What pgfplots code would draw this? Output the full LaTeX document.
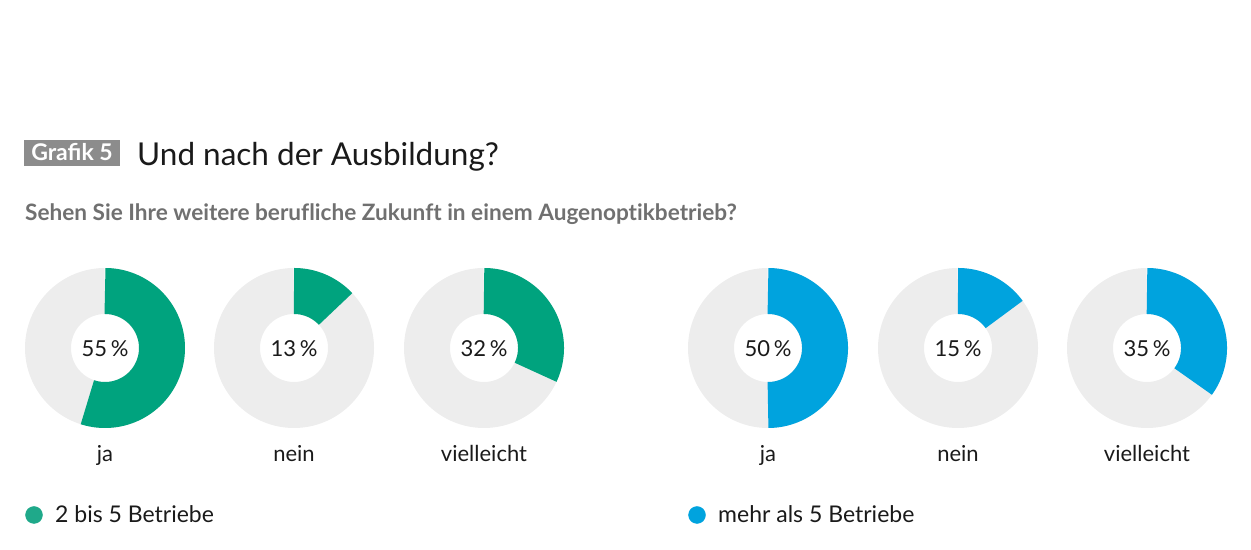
\documentclass[border=0pt]{standalone}
\usepackage{pgfplots}
\pgfplotsset{compat=1.18}
\usepackage{fontspec}
\setmainfont{Lato}
\newfontfamily\nolig{Lato}[Ligatures=NoCommon]
\definecolor{cgreen}{HTML}{00A37E}
\definecolor{cgreenL}{HTML}{1FA98A}
\definecolor{cblue}{HTML}{00A3DE}
\definecolor{ring}{HTML}{EDEDED}
\definecolor{boxgray}{HTML}{8C8C8C}
\definecolor{subgray}{HTML}{707070}
\definecolor{txt}{HTML}{1A1A1A}
% donut: centre x, percentage, colour, label
\newcommand{\donut}[4]{%
  \addplot[draw=ring, line width=46bp, domain=0:360, samples=145, variable=\t]
    ({#1+57*sin(\t)}, {348-57*cos(\t)});
  \addplot[draw=#3, line width=46bp, line cap=butt, domain=0:3.6*#2, samples=90, variable=\t]
    ({#1+57*sin(\t)}, {348-57*cos(\t)});
  \node[font=\fontsize{22bp}{26bp}\selectfont, text=txt] at (axis cs:#1,349) {#2\,\%};
  \node[font=\fontsize{22bp}{26bp}\selectfont, text=txt, anchor=base] at (axis cs:#1,462) {#4};
}
\begin{document}
\begin{tikzpicture}
\begin{axis}[
  scale only axis, width=1251bp, height=550bp,
  xmin=0, xmax=1251, ymin=0, ymax=550, y dir=reverse,
  hide axis, clip=false,
]
\path[draw=none] (axis cs:0,0) rectangle (axis cs:1251,550);
\fill[boxgray] (axis cs:24,140) rectangle (axis cs:120,166);
\node[font=\fontsize{23bp}{26bp}\selectfont\bfseries, text=white, inner sep=0pt, anchor=base] at (axis cs:72,161) {Grafik 5};
\node[font=\fontsize{31.5bp}{36bp}\selectfont, text=txt, anchor=base west, inner sep=0pt] at (axis cs:137,166) {Und nach der Ausbildung?};
\node[font=\fontsize{22.6bp}{26bp}\selectfont\nolig\bfseries, text=subgray, anchor=base west, inner sep=0pt] at (axis cs:25,221) {Sehen Sie Ihre weitere berufliche Zukunft in einem Augenoptikbetrieb?};
\donut{105}{55}{cgreen}{ja}
\donut{294}{13}{cgreen}{nein}
\donut{484}{32}{cgreen}{vielleicht}
\donut{768}{50}{cblue}{ja}
\donut{958}{15}{cblue}{nein}
\donut{1147}{35}{cblue}{vielleicht}
\addplot[only marks, mark=*, mark size=8.5bp, draw=cgreenL, fill=cgreenL] coordinates {(34,515)};
\addplot[only marks, mark=*, mark size=8.5bp, draw=cblue, fill=cblue] coordinates {(697,515)};
\node[font=\fontsize{23bp}{26bp}\selectfont, text=txt, anchor=base west, inner sep=0pt] at (axis cs:55,523) {2 bis 5 Betriebe};
\node[font=\fontsize{23bp}{26bp}\selectfont, text=txt, anchor=base west, inner sep=0pt] at (axis cs:718,523) {mehr als 5 Betriebe};
\end{axis}
\end{tikzpicture}
\end{document}
